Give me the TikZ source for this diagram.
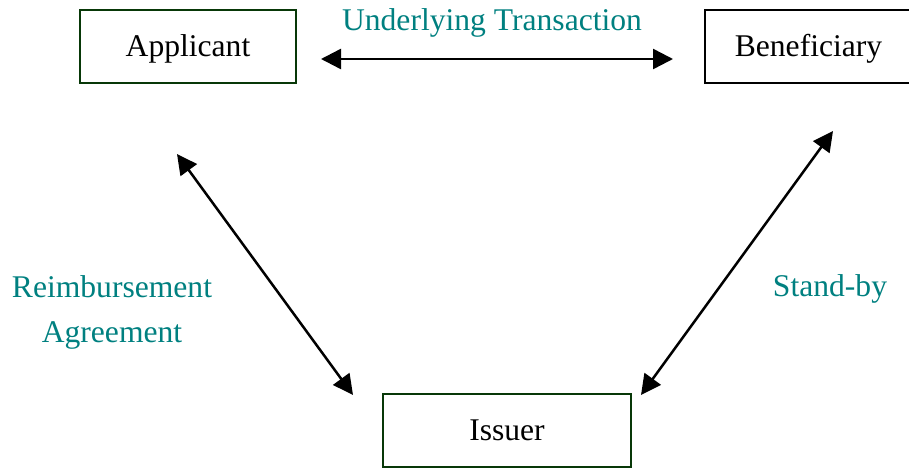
\documentclass[tikz,border=0pt]{standalone}
\usepackage{fontspec}
\setmainfont{Liberation Serif}
\usetikzlibrary{arrows.meta}
\definecolor{labelteal}{RGB}{0,128,128}
\definecolor{boxgreen}{RGB}{8,56,8}
\begin{document}
\begin{tikzpicture}[x=1pt,y=-1pt,
  party/.style={draw, line width=2pt, minimum height=73pt, inner sep=0pt,
    text height=22pt, text depth=2pt,
    font=\fontsize{31.6}{38}\selectfont},
  greenparty/.style={party, draw=boxgreen},
  blackparty/.style={party, draw=black},
  relation/.style={labelteal, font=\fontsize{31.6}{38}\selectfont, anchor=base, inner sep=0pt},
  headtip/.tip={Triangle[length=20pt,width=20pt]},
  link/.style={line width=2.5pt, headtip-headtip}
]
\useasboundingbox (0,0) rectangle (909,468);

% parties
\node[greenparty, minimum width=216pt] (applicant) at (188,46.5) {Applicant};
\node[blackparty, minimum width=207pt] (beneficiary) at (808.5,46.5) {Beneficiary};
\node[greenparty, minimum width=248pt] (issuer) at (507,430.5) {Issuer};

% connector end points
\coordinate (ut-a) at (321,59);
\coordinate (ut-b) at (673,59);
\coordinate (ra-a) at (177,154);
\coordinate (ra-i) at (353,395);
\coordinate (sb-b) at (833,131);
\coordinate (sb-i) at (641,395);

% relationships
\draw[link] (ut-a) -- (ut-b);
\draw[link] (ra-a) -- (ra-i);
\draw[link] (sb-b) -- (sb-i);

% relationship labels
\node[relation] (ut) at (492,31) {Underlying Transaction};
\node[relation] (ra1) at (112,297) {Reimbursement};
\node[relation] (ra2) at (112,342) {Agreement};
\node[relation] (sb) at (830,296) {Stand-by};
\end{tikzpicture}
\end{document}
